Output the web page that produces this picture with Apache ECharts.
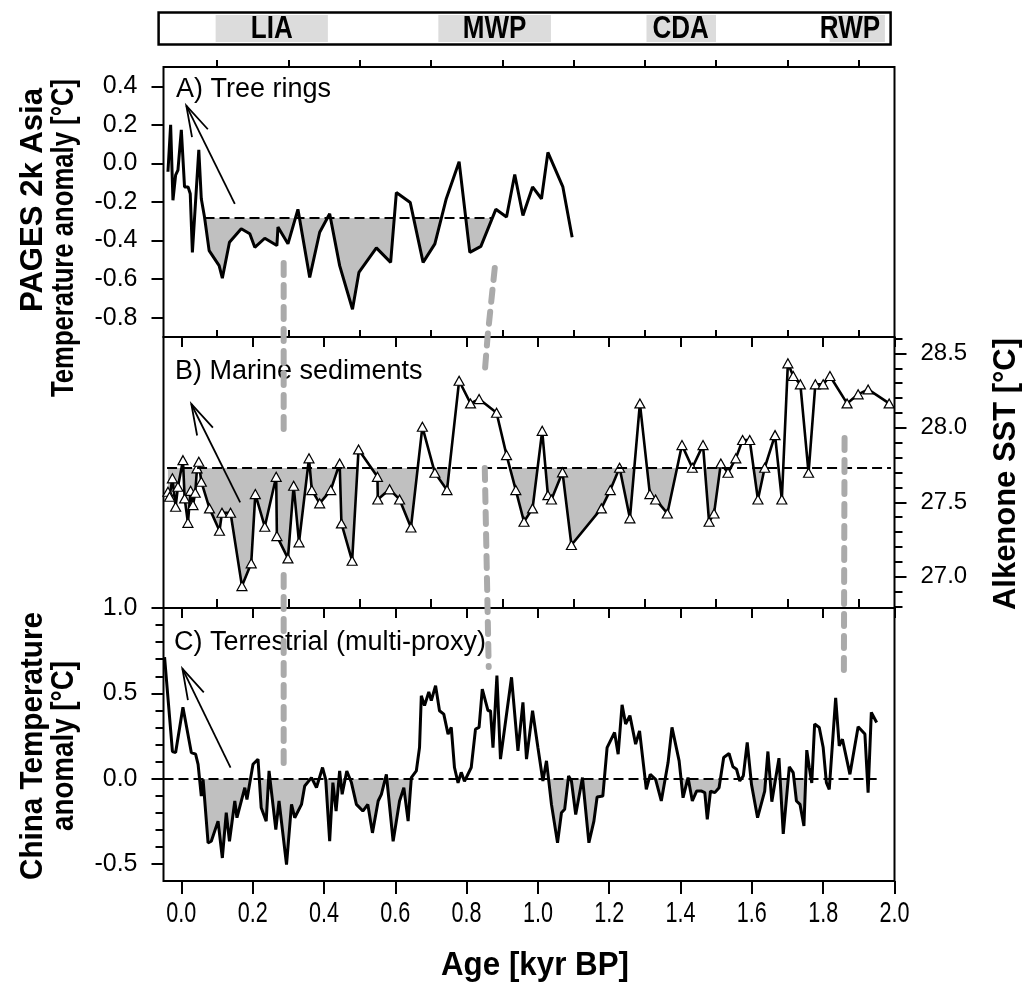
<!DOCTYPE html>
<html><head><meta charset="utf-8">
<script src="https://cdn.jsdelivr.net/npm/echarts@6/dist/echarts.min.js"></script>
<style>html,body{margin:0;padding:0;background:#fff}#c{width:1028px;height:993px}</style>
</head><body><div id="c"></div>
<script>
// ---------------- data ----------------
const periodNames = ['LIA', 'MWP', 'CDA', 'RWP'];
const periodStart = [0.095, 0.72, 1.304, 1.818];
const periodEnd   = [0.41, 1.036, 1.499, 1.973];
const periodLabelX = [0.2525, 0.878, 1.40, 1.875];

// A) Tree rings (PAGES 2k Asia)
const treeAge  = [-0.0375,-0.030,-0.0235,-0.016,-0.0095,0.000,0.009,0.019,0.025,0.031,0.049,0.056,0.065,0.078,0.106,0.115,0.135,0.168,0.192,0.206,0.234,0.268,0.271,0.299,0.327,0.360,0.388,0.416,0.444,0.480,0.498,0.547,0.587,0.603,0.642,0.678,0.711,0.743,0.779,0.809,0.840,0.882,0.912,0.935,0.958,0.985,1.010,1.028,1.070,1.096];
const treeAnom = [-0.043,0.200,-0.191,-0.061,-0.035,0.174,-0.122,-0.122,-0.157,-0.461,0.070,-0.183,-0.278,-0.452,-0.530,-0.595,-0.409,-0.339,-0.365,-0.435,-0.388,-0.426,-0.330,-0.417,-0.238,-0.591,-0.357,-0.261,-0.530,-0.756,-0.565,-0.438,-0.513,-0.151,-0.203,-0.513,-0.417,-0.183,0.009,-0.461,-0.430,-0.238,-0.278,-0.057,-0.270,-0.122,-0.183,0.057,-0.122,-0.383];

// B) Marine sediments (Alkenone SST)
const sstAge = [-0.0375,-0.033,-0.025,-0.016,-0.0095,0.0046,0.0093,0.0185,0.026,0.0327,0.039,0.044,0.049,0.056,0.079,0.107,0.114,0.138,0.170,0.196,0.2075,0.234,0.266,0.268,0.299,0.315,0.330,0.358,0.366,0.388,0.419,0.444,0.449,0.479,0.497,0.550,0.551,0.584,0.612,0.644,0.676,0.711,0.745,0.779,0.811,0.835,0.884,0.912,0.938,0.961,0.985,1.012,1.028,1.038,1.069,1.094,1.178,1.203,1.229,1.258,1.286,1.314,1.330,1.363,1.404,1.433,1.463,1.480,1.494,1.513,1.533,1.555,1.574,1.594,1.617,1.636,1.665,1.684,1.701,1.716,1.736,1.759,1.778,1.800,1.819,1.867,1.898,1.926,1.985];
const sstVal = [27.571,27.537,27.661,27.470,27.604,27.783,27.526,27.362,27.577,27.481,27.564,27.728,27.772,27.638,27.459,27.309,27.430,27.430,26.937,27.090,27.555,27.336,27.671,27.273,27.123,27.611,27.231,27.795,27.582,27.493,27.582,27.761,27.358,27.107,27.855,27.671,27.519,27.587,27.519,27.331,28.007,27.698,27.582,28.316,28.164,28.193,28.101,27.817,27.582,27.369,27.459,27.980,27.548,27.519,27.701,27.213,27.459,27.582,27.732,27.392,28.164,27.555,27.519,27.425,27.884,27.732,27.884,27.369,27.425,27.761,27.698,27.795,27.918,27.918,27.519,27.732,27.951,27.519,28.433,28.348,28.292,27.698,28.292,28.292,28.348,28.164,28.225,28.258,28.164];

// C) Terrestrial (China temperature anomaly)
const chinaAge = [-0.047,-0.025,-0.016,0.0045,0.028,0.040,0.047,0.056,0.061,0.075,0.084,0.103,0.115,0.126,0.135,0.150,0.156,0.178,0.184,0.201,0.215,0.224,0.238,0.246,0.265,0.274,0.295,0.309,0.318,0.337,0.346,0.365,0.379,0.396,0.405,0.416,0.425,0.434,0.444,0.451,0.464,0.477,0.491,0.509,0.523,0.536,0.552,0.561,0.575,0.594,0.612,0.624,0.636,0.645,0.659,0.668,0.673,0.682,0.694,0.701,0.713,0.724,0.736,0.748,0.757,0.766,0.776,0.785,0.794,0.813,0.825,0.835,0.844,0.860,0.867,0.874,0.885,0.895,0.926,0.944,0.958,0.968,0.985,1.000,1.014,1.024,1.038,1.055,1.066,1.075,1.086,1.094,1.106,1.125,1.143,1.157,1.166,1.182,1.194,1.215,1.225,1.236,1.246,1.258,1.274,1.285,1.304,1.315,1.330,1.346,1.365,1.376,1.396,1.407,1.421,1.433,1.445,1.459,1.468,1.475,1.484,1.496,1.508,1.521,1.536,1.547,1.557,1.566,1.576,1.587,1.599,1.616,1.636,1.645,1.656,1.676,1.688,1.705,1.716,1.725,1.735,1.746,1.754,1.761,1.768,1.776,1.789,1.800,1.809,1.817,1.835,1.845,1.854,1.875,1.898,1.917,1.926,1.935,1.950];
const chinaAnom = [0.712,0.159,0.153,0.418,0.153,0.143,0.084,-0.102,-0.004,-0.376,-0.367,-0.249,-0.465,-0.200,-0.367,-0.131,-0.229,-0.053,-0.122,0.084,0.114,-0.171,-0.249,0.045,-0.298,-0.131,-0.504,-0.151,-0.229,-0.151,-0.043,0.006,-0.053,0.065,-0.006,-0.367,-0.023,-0.190,0.045,-0.092,0.045,-0.023,-0.151,-0.190,-0.151,-0.318,-0.131,-0.092,0.025,-0.367,-0.131,-0.053,-0.249,0.006,0.045,0.182,0.486,0.428,0.508,0.457,0.545,0.398,0.378,0.261,0.300,0.065,-0.025,0.037,-0.016,0.065,0.290,0.300,0.525,0.398,0.398,0.182,0.604,0.114,0.594,0.163,0.447,0.114,0.398,0.182,-0.014,0.104,-0.151,-0.376,-0.200,-0.180,0.016,-0.014,-0.210,0.006,-0.376,-0.249,-0.108,-0.102,0.182,0.271,0.143,0.433,0.320,0.369,0.202,0.280,-0.063,0.025,-0.004,-0.131,0.094,0.300,0.104,-0.112,0.006,-0.131,-0.073,-0.073,-0.082,-0.239,-0.073,-0.082,-0.053,0.124,0.147,0.069,0.055,-0.014,0.016,0.212,-0.035,-0.229,-0.073,0.159,-0.135,0.120,-0.324,0.069,0.035,-0.131,-0.151,-0.278,0.167,0.065,-0.025,0.320,0.300,0.182,-0.023,-0.063,0.473,0.192,0.231,0.025,0.304,0.261,-0.082,0.388,0.329];

// reference levels and shaded ranges
const baseA = -0.283, baseB = 27.73, baseC = 0.0;
const baseSpanA = [0.065, 0.874], baseSpanB = [-0.04, 1.99], baseSpanC = [-0.05, 1.95];
const fillRangesA = [[0.06, 0.885]];
const fillRangesB = [[-0.05, 1.645]];
const fillRangesC = [[0.06, 0.65], [1.0, 1.195], [1.30, 1.37], [1.395, 1.525], [1.585, 1.755]];

// ticks
const xTicksMajor = [0.0,0.2,0.4,0.6,0.8,1.0,1.2,1.4,1.6,1.8,2.0];
const xTicksMinor = [0.1,0.3,0.5,0.7,0.9,1.1,1.3,1.5,1.7,1.9];
const yTicksA = [-0.8,-0.6,-0.4,-0.2,0.0,0.2,0.4];
const yTicksBMajor = [27.0,27.5,28.0,28.5];
const yTicksBMinor = [26.8,26.9,27.1,27.2,27.3,27.4,27.6,27.7,27.8,27.9,28.1,28.2,28.3,28.4,28.6];
const yTicksCMajor = [-0.5,0.0,0.5,1.0];
const yTicksCMinor = [-0.4,-0.3,-0.2,-0.1,0.1,0.2,0.3,0.4,0.6,0.7,0.8,0.9];

// annotations (data coordinates of each panel)
const arrowHeads = [['A',0.014,0.30],['B',0.028,28.16],['C',0.003,0.645]];
const arrowTails = [['A',0.15,-0.21],['B',0.165,27.50],['C',0.138,0.065]];
const links = [
  [['A',0.287,-0.516],['B',0.287,27.938]],
  [['B',0.287,27.012],['C',0.287,0.068]],
  [['A',0.879,-0.542],['A',0.859,-0.895],['B',0.851,28.375]],
  [['B',0.851,27.730],['C',0.862,0.654]],
  [['B',1.860,27.932],['C',1.858,0.590]]
];

// ---------------- chart ----------------
const SANS = "'Liberation Sans',Arial,sans-serif";
const FILL = '#c0c0c0';
const pairs = (xs, ys) => xs.map((x, i) => [x, ys[i]]);
const inRanges = (x, rs) => rs.some(r => x >= r[0] && x <= r[1]);
const areaData = (xs, ys, rs) => xs.map((x, i) => [x, inRanges(x, rs) ? ys[i] : '-']);

const chart = echarts.init(document.getElementById('c'), null, {renderer: 'canvas'});

const gridBase = {show: true, borderColor: '#000', borderWidth: 2, backgroundColor: 'transparent', containLabel: false};
function xAx(grid, ticks, len) {
  return {type: 'value', gridIndex: grid, min: -0.05, max: 2.0,
    axisLine: {show: false, onZero: false}, splitLine: {show: false},
    axisTick: {show: true, customValues: ticks, length: len, lineStyle: {color: '#000', width: 2}},
    axisLabel: {show: false}};
}
function yAx(grid, min, max, pos, ticks, len, labels, fs) {
  return {type: 'value', gridIndex: grid, min: min, max: max, position: pos,
    axisLine: {show: false, onZero: false}, splitLine: {show: false},
    axisTick: {show: true, customValues: ticks, length: len, lineStyle: {color: '#000', width: 2}},
    axisLabel: labels ? {show: true, customValues: ticks, formatter: v => v.toFixed(1), margin: 26,
      fontFamily: SANS, fontSize: fs, color: '#000'} : {show: false}};
}
const transparent = 'rgba(255,255,255,0)';

const option = {
  animation: false,
  backgroundColor: '#fff',
  grid: [
    Object.assign({}, gridBase, {left: 158.6, top: 12.5, width: 732, height: 32, borderWidth: 2.5}),
    Object.assign({}, gridBase, {left: 163.5, top: 67, width: 731, height: 270}),
    Object.assign({}, gridBase, {left: 163.5, top: 337, width: 731, height: 271}),
    Object.assign({}, gridBase, {left: 163.5, top: 608, width: 731, height: 273})
  ],
  xAxis: [
    {type: 'value', gridIndex: 0, min: -0.065, max: 1.989, show: false},
    xAx(1, xTicksMajor, 10), xAx(1, xTicksMinor, 7),
    xAx(2, xTicksMajor, 10), xAx(2, xTicksMinor, 7),
    xAx(3, xTicksMajor, 13), xAx(3, xTicksMinor, 9)
  ],
  yAxis: [
    {type: 'value', gridIndex: 0, min: 0, max: 1, show: false},
    yAx(1, -0.9, 0.5, 'left', yTicksA, 12, true, 25),
    yAx(2, 26.79, 28.61, 'right', yTicksBMajor, 12, true, 24),
    yAx(2, 26.79, 28.61, 'right', yTicksBMinor, 8, false, 24),
    yAx(3, -0.6, 1.0, 'left', yTicksCMajor, 12, true, 25),
    yAx(3, -0.6, 1.0, 'left', yTicksCMinor, 8, false, 25)
  ],
  visualMap: [
    {show: false, type: 'piecewise', seriesIndex: 0, dimension: 1, outOfRange: {color: transparent},
     pieces: [{min: -10, max: baseA, color: FILL}, {min: baseA, max: 10, color: transparent}]},
    {show: false, type: 'piecewise', seriesIndex: 2, dimension: 1, outOfRange: {color: transparent},
     pieces: [{min: 20, max: baseB, color: FILL}, {min: baseB, max: 40, color: transparent}]},
    {show: false, type: 'piecewise', seriesIndex: 4, dimension: 1, outOfRange: {color: transparent},
     pieces: [{min: -10, max: baseC, color: FILL}, {min: baseC, max: 10, color: transparent}]}
  ],
  series: [
    {type: 'line', xAxisIndex: 1, yAxisIndex: 1, data: areaData(treeAge, treeAnom, fillRangesA), showSymbol: false,
     connectNulls: false, silent: true, z: 1, lineStyle: {width: 0, opacity: 0}, areaStyle: {origin: baseA, opacity: 1}},
    {type: 'line', xAxisIndex: 1, yAxisIndex: 1, data: pairs(treeAge, treeAnom), showSymbol: false, silent: true, z: 3,
     lineStyle: {color: '#000', width: 3}, itemStyle: {color: '#000'},
     markLine: {silent: true, symbol: ['none', 'none'], label: {show: false}, lineStyle: {color: '#000', width: 2, type: [10, 5]},
       data: [[{coord: [baseSpanA[0], baseA]}, {coord: [baseSpanA[1], baseA]}]]}},
    {type: 'line', xAxisIndex: 3, yAxisIndex: 2, data: areaData(sstAge, sstVal, fillRangesB), showSymbol: false,
     connectNulls: false, silent: true, z: 1, lineStyle: {width: 0, opacity: 0}, areaStyle: {origin: baseB, opacity: 1}},
    {type: 'line', xAxisIndex: 3, yAxisIndex: 2, data: pairs(sstAge, sstVal), symbol: 'triangle', symbolSize: [10, 9],
     showSymbol: true, silent: true, z: 3,
     lineStyle: {color: '#000', width: 2.6}, itemStyle: {color: '#fff', borderColor: '#000', borderWidth: 1.2},
     markLine: {silent: true, symbol: ['none', 'none'], label: {show: false}, lineStyle: {color: '#000', width: 2, type: [10, 5]},
       data: [[{coord: [baseSpanB[0], baseB]}, {coord: [baseSpanB[1], baseB]}]]}},
    {type: 'line', xAxisIndex: 5, yAxisIndex: 4, data: areaData(chinaAge, chinaAnom, fillRangesC), showSymbol: false,
     connectNulls: false, silent: true, z: 1, lineStyle: {width: 0, opacity: 0}, areaStyle: {origin: baseC, opacity: 1}},
    {type: 'line', xAxisIndex: 5, yAxisIndex: 4, data: pairs(chinaAge, chinaAnom), showSymbol: false, silent: true, z: 3,
     lineStyle: {color: '#000', width: 3}, itemStyle: {color: '#000'},
     markLine: {silent: true, symbol: ['none', 'none'], label: {show: false}, lineStyle: {color: '#000', width: 2, type: [10, 5]},
       data: [[{coord: [baseSpanC[0], baseC]}, {coord: [baseSpanC[1], baseC]}]]}},
    {type: 'custom', xAxisIndex: 0, yAxisIndex: 0, silent: true, z: 2,
     data: periodStart.map((s, i) => [s, periodEnd[i], i]),
     renderItem: function (params, api) {
       const i = api.value(2);
       const p0 = api.coord([api.value(0), 0.92]);
       const p1 = api.coord([api.value(1), 0.08]);
       const pl = api.coord([periodLabelX[i], 0.5]);
       return {type: 'group', children: [
         {type: 'rect', shape: {x: p0[0], y: p0[1], width: p1[0] - p0[0], height: p1[1] - p0[1]}, style: {fill: '#dcdcdc'}},
         {type: 'text', x: pl[0], y: pl[1] + 1, scaleX: 0.84, style: {text: periodNames[i], x: 0, y: 0, align: 'center', verticalAlign: 'middle',
           font: 'bold 31px ' + SANS, fill: '#000'}}
       ]};
     }}
  ]
};
chart.setOption(option);

// ---------------- annotations ----------------
const finder = {A: {xAxisIndex: 1, yAxisIndex: 1}, B: {xAxisIndex: 3, yAxisIndex: 2}, C: {xAxisIndex: 5, yAxisIndex: 4}};
const toPx = p => chart.convertToPixel(finder[p[0]], [p[1], p[2]]);
const measure = document.createElement('canvas').getContext('2d');
const g = [];
arrowHeads.forEach((hd, i) => {
  const h = toPx(hd), t = toPx(arrowTails[i]);
  const ang = Math.atan2(t[1] - h[1], t[0] - h[0]);
  const L = 32, da = 16 * Math.PI / 180;
  const w1 = [h[0] + L * Math.cos(ang - da), h[1] + L * Math.sin(ang - da)];
  const w2 = [h[0] + L * Math.cos(ang + da), h[1] + L * Math.sin(ang + da)];
  g.push({type: 'polyline', z: 20, shape: {points: [t, h]}, style: {stroke: '#000', lineWidth: 1.8, fill: null}});
  g.push({type: 'polyline', z: 20, shape: {points: [w1, h, w2]}, style: {stroke: '#000', lineWidth: 1.8, fill: null}});
});
links.forEach(pts => {
  g.push({type: 'polyline', z: 30, shape: {points: pts.map(toPx)},
    style: {stroke: '#aaaaaa', lineWidth: 6, lineDash: [12, 10], lineCap: 'round', fill: null}});
});
// text helper; optional target length squeezes the text along its reading direction
const txt = (text, x, y, font, rot, align, target) => {
  let sx = 1;
  if (target) { measure.font = font; sx = target / measure.measureText(text).width; }
  return {type: 'text', z: 25, x: x, y: y, rotation: rot || 0, scaleX: sx,
    style: {text: text, font: font, fill: '#000', align: align || 'center', verticalAlign: 'middle'}};
};
g.push(txt('A) Tree rings', 176, 90, '27px ' + SANS, 0, 'left'));
g.push(txt('B) Marine sediments', 175, 372, '27px ' + SANS, 0, 'left'));
g.push(txt('C) Terrestrial (multi-proxy)', 174, 643, '27px ' + SANS, 0, 'left'));
const TITLE = 'bold 32px ' + SANS;
g.push(txt('PAGES 2k Asia', 33, 200, TITLE, Math.PI / 2, 'center', 224));
g.push(txt('Temperature anomaly [°C]', 64, 238, TITLE, Math.PI / 2, 'center', 318));
g.push(txt('China Temperature', 33, 746, TITLE, Math.PI / 2, 'center', 268));
g.push(txt('anomaly [°C]', 64, 746, TITLE, Math.PI / 2, 'center', 170));
g.push(txt('Alkenone SST [°C]', 1006, 474, TITLE, Math.PI / 2, 'center', 272));
g.push(txt('Age [kyr BP]', 535, 966, 'bold 34px ' + SANS, 0, 'center', 188));
// bottom tick labels
xTicksMajor.forEach(v => {
  const p = chart.convertToPixel({xAxisIndex: 5, yAxisIndex: 4}, [v, -0.6]);
  g.push(txt(v.toFixed(1), p[0], p[1] + 33, '30px ' + SANS, 0, 'center', 30));
});
chart.setOption({graphic: g});
</script>
</body></html>
